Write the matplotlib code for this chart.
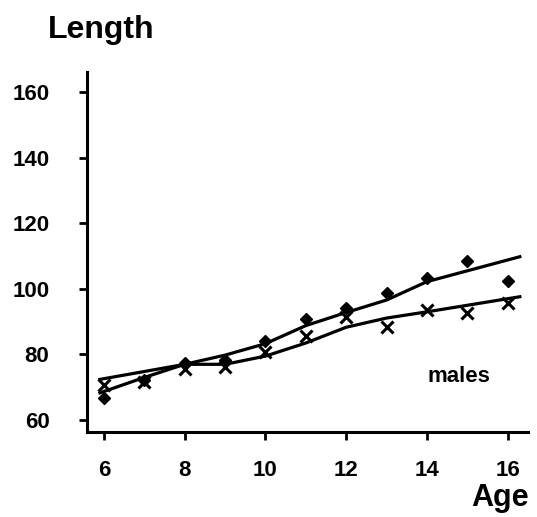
import matplotlib
matplotlib.use("Agg")
import matplotlib.pyplot as plt

# observed points
ages = [6, 7, 8, 9, 10, 11, 12, 13, 14, 15, 16]
diamond_len = [66.8, 72.2, 77.4, 78.3, 84.2, 90.8, 94.1, 98.7, 103.3, 108.6, 102.5]
cross_len = [70.7, 71.7, 75.5, 76.2, 80.8, 85.6, 91.5, 88.4, 93.5, 92.6, 95.7]

# fitted curves
fit_d_age = [5.9, 7, 8, 9, 10, 11, 12, 13, 14, 16.3]
fit_d_len = [68.3, 73.0, 77.0, 79.8, 83.3, 88.8, 92.8, 96.6, 102.2, 109.8]
fit_x_age = [5.9, 8, 9, 10, 11, 12, 13, 14, 16.3]
fit_x_len = [72.4, 77.0, 77.0, 79.5, 83.5, 88.3, 91.1, 93.0, 97.6]

xticks = [6, 8, 10, 12, 14, 16]
yticks = [60, 80, 100, 120, 140, 160]

plt.rcParams["font.family"] = ["Liberation Sans", "DejaVu Sans"]

fig = plt.figure(figsize=(5.37, 5.17), dpi=100)
ax = fig.add_axes([0.162, 0.164, 0.821, 0.696])

ax.plot(fit_d_age, fit_d_len, color="black", lw=2.3)
ax.plot(fit_x_age, fit_x_len, color="black", lw=2.3)
ax.plot(ages, diamond_len, ls="none", marker="D", ms=6.5, color="black")
ax.plot(ages, cross_len, ls="none", marker="x", ms=9, mew=2.2, color="black")

ax.set_xlim(5.58, 16.5)
ax.set_ylim(56.3, 166)
ax.set_xticks(xticks)
ax.set_yticks(yticks)
for s in ["top", "right"]:
    ax.spines[s].set_visible(False)
for s in ["left", "bottom"]:
    ax.spines[s].set_linewidth(2.2)
ax.tick_params(axis="both", direction="out", width=2, length=6, labelsize=16)
ax.tick_params(axis="x", pad=14)
ax.tick_params(axis="y", pad=21)
for lab in ax.get_xticklabels() + ax.get_yticklabels():
    lab.set_fontweight("bold")

fig.text(0.089, 0.942, "Length", fontsize=23, fontweight="bold", va="center")
fig.text(0.985, 0.036, "Age", fontsize=22, fontweight="bold", ha="right", va="center")
ax.text(14.8, 73.2, "males", fontsize=16, fontweight="bold", ha="center", va="center")

fig.savefig("out.png", dpi=100)
